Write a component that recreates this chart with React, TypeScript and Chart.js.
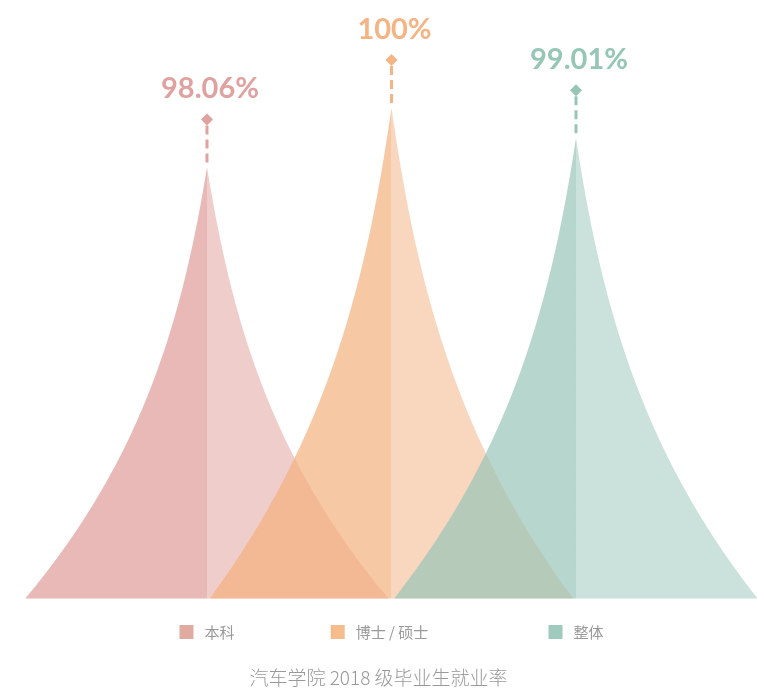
import { useEffect, useRef } from "react";
import { Chart, registerables } from "chart.js";

Chart.register(...registerables);

// ---- data ----
const categories = ["本科", "博士 / 硕士", "整体"];
const rates = [98.06, 100, 99.01];
const rateLabels = ["98.06%", "100%", "99.01%"];
const chartTitle = "汽车学院 2018 级毕业生就业率";

// ---- styles ----
const fillRgb = [
  [222, 155, 152],
  [244, 176, 126],
  [152, 196, 184],
];
const markColors = ["#e0a2a0", "#f5b483", "#96c6b4"];
const legendColors = ["#e1aaa1", "#f7bc8c", "#9ecbbd"];

const peakPlugin = {
  id: "peaks",
  afterDatasetsDraw(chart: any) {
    const ctx = chart.ctx as CanvasRenderingContext2D;
    const ys = chart.scales.y;
    const xs = chart.scales.x;
    const base = ys.getPixelForValue(ys.min);
    const band = xs.getPixelForValue(1) - xs.getPixelForValue(0);
    const hw = band * 0.985;
    const meta = chart.getDatasetMeta(0);
    const els = meta.data.map((el: any) => el.getProps(["x", "y"], true));
    ctx.save();
    els.forEach((p: any, i: number) => {
      const { x, y } = p;
      const h = base - y;
      const [r, g, b] = fillRgb[i];
      // left half
      ctx.beginPath();
      ctx.moveTo(x, y);
      ctx.bezierCurveTo(x - 0.13 * hw, y + h / 3, x - hw / 3, y + (2 * h) / 3, x - hw, base);
      ctx.lineTo(x, base);
      ctx.closePath();
      ctx.fillStyle = `rgba(${r},${g},${b},0.7)`;
      ctx.fill();
      // right half
      ctx.beginPath();
      ctx.moveTo(x, y);
      ctx.bezierCurveTo(x + 0.13 * hw, y + h / 3, x + hw / 3, y + (2 * h) / 3, x + hw, base);
      ctx.lineTo(x, base);
      ctx.closePath();
      ctx.fillStyle = `rgba(${r},${g},${b},0.5)`;
      ctx.fill();
    });
    els.forEach((p: any, i: number) => {
      const { x, y } = p;
      const dy = y - 48;
      const c = markColors[i];
      ctx.strokeStyle = c;
      ctx.fillStyle = c;
      ctx.lineWidth = 3;
      ctx.setLineDash([9, 5]);
      ctx.beginPath();
      ctx.moveTo(x, dy + 6);
      ctx.lineTo(x, y - 4);
      ctx.stroke();
      ctx.setLineDash([]);
      ctx.beginPath();
      ctx.moveTo(x, dy - 6);
      ctx.lineTo(x + 6, dy);
      ctx.lineTo(x, dy + 6);
      ctx.lineTo(x - 6, dy);
      ctx.closePath();
      ctx.fill();
      ctx.font = "bold 29px Lato, 'DejaVu Sans', sans-serif";
      ctx.textAlign = "center";
      ctx.textBaseline = "alphabetic";
      ctx.fillText(rateLabels[i], x + 3, dy - 21);
    });
    ctx.restore();
  },
  afterDraw(chart: any) {
    const ctx = chart.ctx as CanvasRenderingContext2D;
    const xs = chart.scales.x;
    ctx.save();
    ctx.font = "15px 'Noto Sans CJK SC', sans-serif";
    ctx.textBaseline = "middle";
    ctx.textAlign = "left";
    categories.forEach((name, i) => {
      const cx = xs.getPixelForValue(i);
      const tw = ctx.measureText(name).width;
      const w = 14 + 11 + tw;
      const left = cx - w / 2 - (i === 1 ? 12 : 0);
      ctx.fillStyle = legendColors[i];
      ctx.fillRect(left, 625, 14, 14);
      ctx.fillStyle = "#999";
      ctx.fillText(name, left + 25, 632);
    });
    ctx.restore();
  },
};

export default function App() {
  const ref = useRef<HTMLCanvasElement>(null);
  useEffect(() => {
    document.body.style.margin = "0";
    const chart = new Chart(ref.current!, {
      type: "bar",
      data: {
        labels: categories,
        datasets: [
          {
            data: rates.map((v, i) => ({ x: i, y: v })),
            backgroundColor: "rgba(0,0,0,0)",
            borderWidth: 0,
            categoryPercentage: 1,
            barPercentage: 1,
          },
        ],
      },
      options: {
        responsive: false,
        animation: false,
        events: [],
        layout: { padding: { left: 0, right: 0, top: 16, bottom: 0 } },
        scales: {
          x: { type: "linear", display: false, offset: false, min: -1.12195, max: 2.98103 },
          y: { display: false, min: 84, max: 103 },
        },
        plugins: {
          legend: { display: false },
          tooltip: { enabled: false },
          title: {
            display: true,
            position: "bottom",
            text: chartTitle,
            color: "#999",
            font: { family: "'Noto Sans CJK SC', sans-serif", size: 19, weight: "300" },
            padding: { top: 67.6, bottom: 0 },
          },
        },
      },
      plugins: [peakPlugin],
    });
    return () => chart.destroy();
  }, []);
  return (
    <div style={{ width: 757, height: 689 }}>
      <canvas ref={ref} width={757} height={689} style={{ display: "block" }} />
    </div>
  );
}
